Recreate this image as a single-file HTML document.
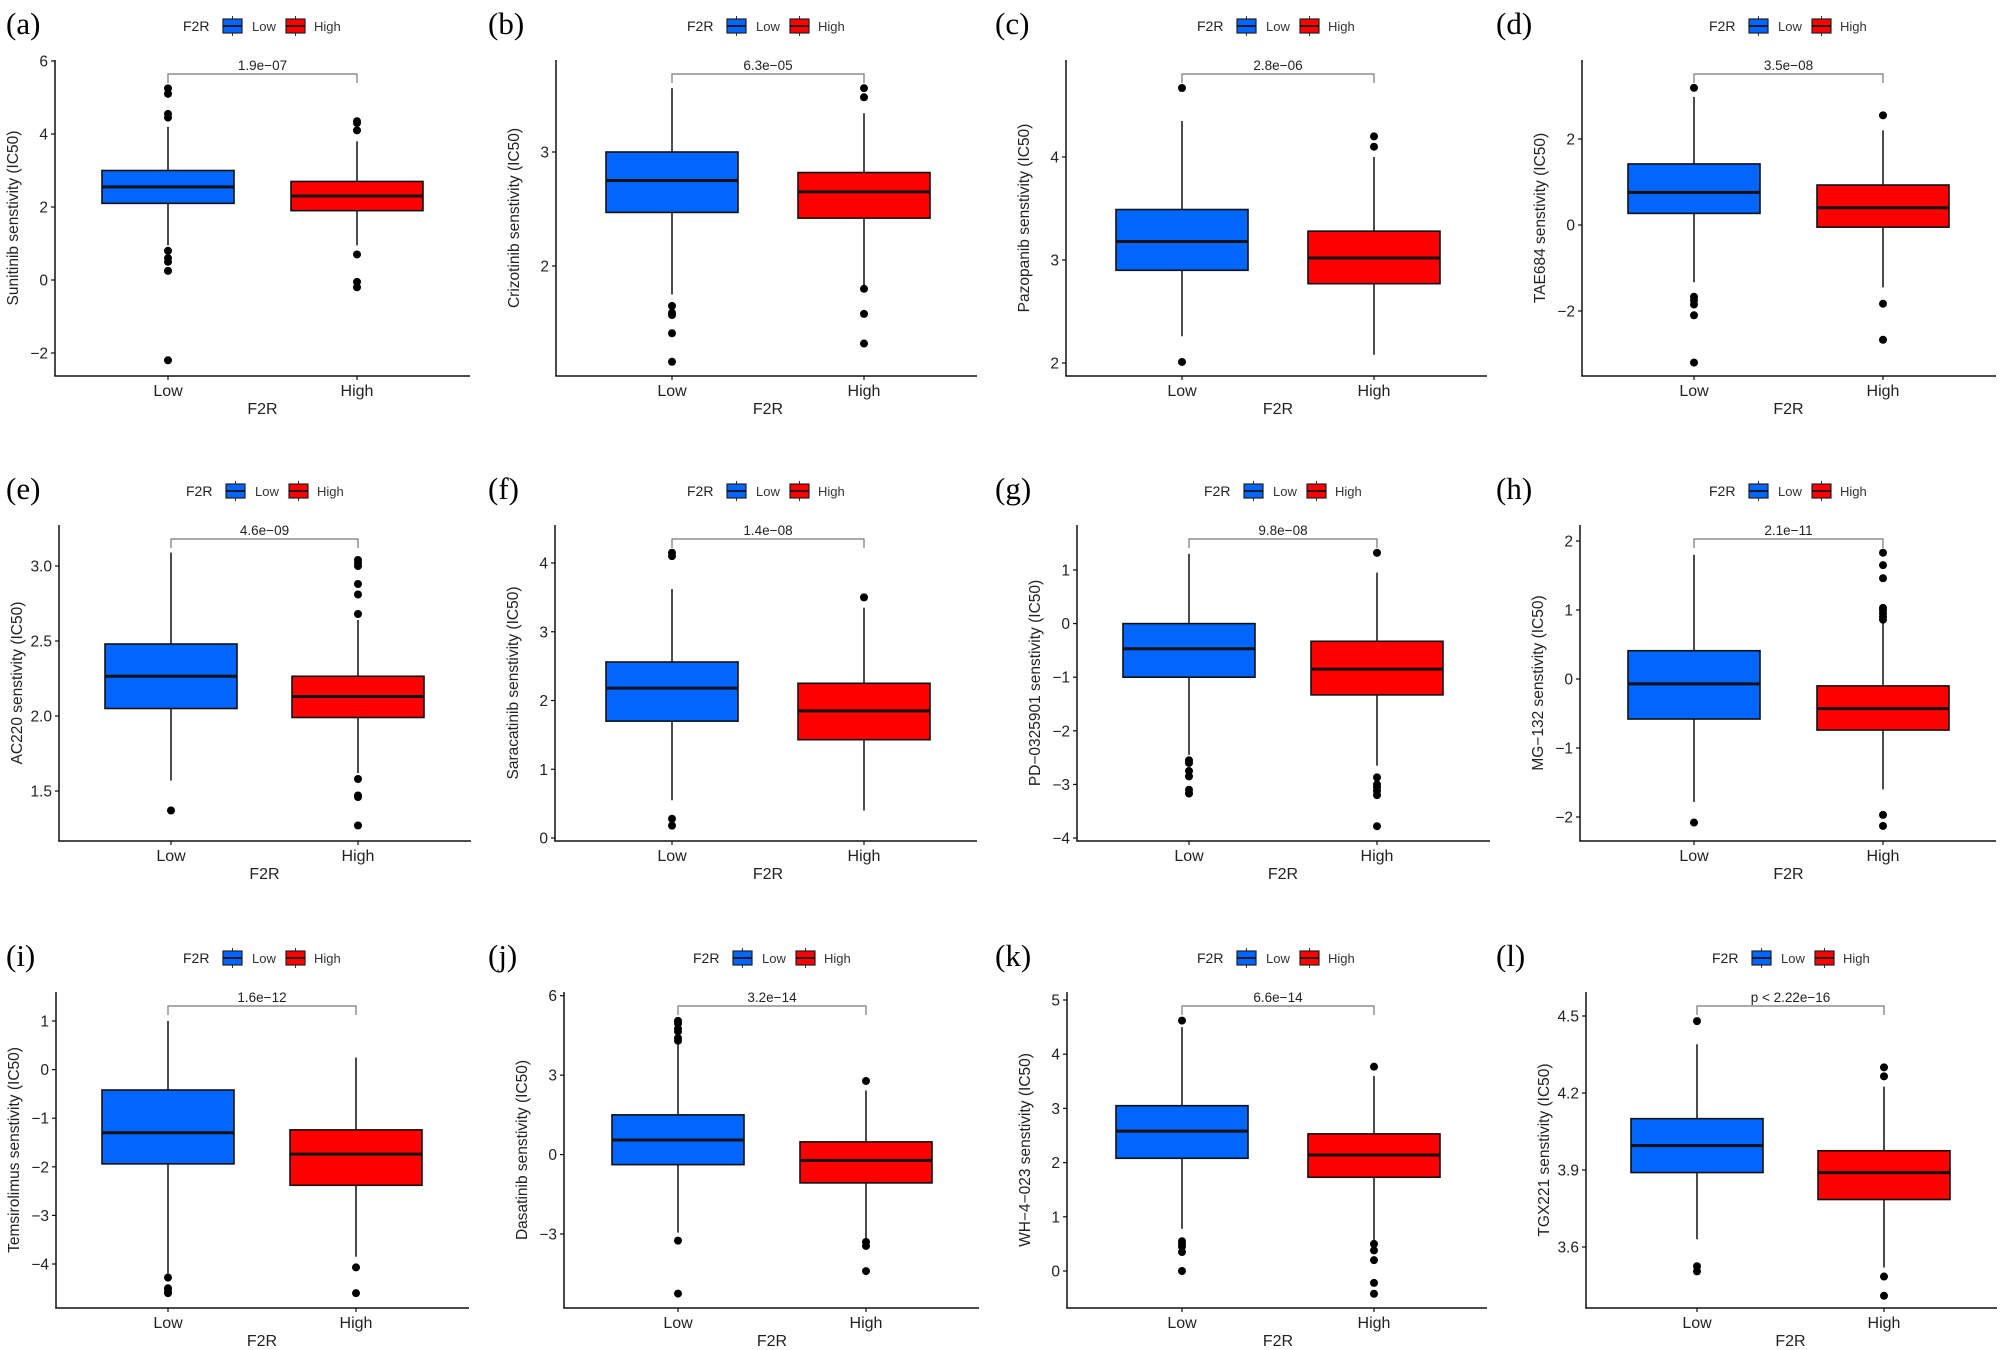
<!DOCTYPE html>
<html><head><meta charset="utf-8">
<style>
html,body{margin:0;padding:0;background:#fff;}
svg{display:block;}
text{font-family:"Liberation Sans",Arial,sans-serif;}
</style></head>
<body>
<svg id="s" xmlns="http://www.w3.org/2000/svg" width="2000" height="1350" viewBox="0 0 2000 1350"></svg>
<script>
var P=[
// row 1
{lab:"(a)",lx:6,row:0,x0:55,lo:168,hi:357,name:"Sunitinib",p:"1.9e-07",t:[[6,61],[-2,353]],ticks:[6,4,2,0,-2],
 L:[4.2,3.0,2.55,2.1,0.95,[5.25,5.1,4.55,4.45,0.8,0.6,0.5,0.25,-2.2]],H:[3.8,2.7,2.3,1.9,0.95,[4.35,4.3,4.1,0.7,-0.05,-0.2]]},
{lab:"(b)",lx:488,row:0,x0:556,lo:672,hi:864,name:"Crizotinib",p:"6.3e-05",t:[[3,152],[2,266]],ticks:[3,2],
 L:[3.56,3.0,2.75,2.47,1.75,[1.65,1.59,1.57,1.41,1.16]],H:[3.34,2.82,2.65,2.42,1.82,[3.56,3.48,1.8,1.58,1.32]]},
{lab:"(c)",lx:995,row:0,x0:1066,lo:1182,hi:1374,name:"Pazopanib",p:"2.8e-06",t:[[4,157],[2,363]],ticks:[4,3,2],
 L:[4.35,3.49,3.18,2.9,2.26,[4.67,2.01]],H:[4.0,3.28,3.02,2.77,2.08,[4.2,4.1]]},
{lab:"(d)",lx:1496,row:0,x0:1582,lo:1694,hi:1883,name:"TAE684",p:"3.5e-08",t:[[2,139],[0,225]],ticks:[2,0,-2],
 L:[2.98,1.42,0.76,0.27,-1.33,[3.19,-1.67,-1.75,-1.85,-2.1,-3.2]],H:[2.2,0.93,0.4,-0.05,-1.45,[2.55,-1.83,-2.67]]},
// row 2
{lab:"(e)",lx:6,row:1,x0:59,lo:171,hi:358,name:"AC220",p:"4.6e-09",t:[[3,566],[1.5,791]],ticks:[3.0,2.5,2.0,1.5],fix:1,
 L:[3.09,2.48,2.265,2.05,1.57,[1.37]],H:[2.64,2.265,2.13,1.99,1.62,[3.04,3.02,3.0,2.88,2.81,2.68,1.58,1.47,1.46,1.27]]},
{lab:"(f)",lx:488,row:1,x0:555,lo:672,hi:864,name:"Saracatinib",p:"1.4e-08",t:[[4,563],[0,838]],ticks:[4,3,2,1,0],
 L:[3.62,2.56,2.18,1.7,0.55,[4.15,4.1,0.28,0.18]],H:[3.35,2.25,1.85,1.43,0.4,[3.5]]},
{lab:"(g)",lx:995,row:1,x0:1077,lo:1189,hi:1377,name:"PD\u22120325901",p:"9.8e-08",t:[[1,570],[-4,838]],ticks:[1,0,-1,-2,-3,-4],
 L:[1.3,0,-0.47,-1.0,-2.45,[-2.55,-2.6,-2.75,-2.85,-3.1,-3.17]],H:[0.95,-0.33,-0.85,-1.33,-2.65,[1.32,-2.87,-3.0,-3.05,-3.12,-3.2,-3.78]]},
{lab:"(h)",lx:1496,row:1,x0:1580,lo:1694,hi:1883,name:"MG\u2212132",p:"2.1e-11",t:[[2,541],[-2,817]],ticks:[2,1,0,-1,-2],
 L:[1.8,0.41,-0.07,-0.58,-1.78,[-2.08]],H:[0.85,-0.1,-0.43,-0.74,-1.6,[1.83,1.65,1.46,1.03,1.0,0.95,0.9,0.86,-1.97,-2.13]]},
// row 3
{lab:"(i)",lx:6,row:2,x0:56,lo:168,hi:356,name:"Temsirolimus",p:"1.6e-12",t:[[1,1021],[-4,1264]],ticks:[1,0,-1,-2,-3,-4],
 L:[1.0,-0.42,-1.3,-1.94,-4.2,[-4.28,-4.5,-4.55,-4.6]],H:[0.25,-1.24,-1.74,-2.38,-3.85,[-4.07,-4.6]]},
{lab:"(j)",lx:488,row:2,x0:564,lo:678,hi:866,name:"Dasatinib",p:"3.2e-14",t:[[6,995.7],[-3,1234]],ticks:[6,3,0,-3],
 L:[4.2,1.5,0.55,-0.38,-2.95,[5.05,4.95,4.75,4.65,4.4,4.3,-3.25,-5.25]],H:[2.42,0.48,-0.22,-1.07,-3.2,[2.78,-3.3,-3.45,-4.4]]},
{lab:"(k)",lx:995,row:2,x0:1067,lo:1182,hi:1374,name:"WH\u22124\u2212023",p:"6.6e-14",t:[[5,1000],[0,1271]],ticks:[5,4,3,2,1,0],
 L:[4.5,3.05,2.58,2.08,0.78,[4.62,0.55,0.5,0.45,0.35,0.0]],H:[3.6,2.53,2.14,1.73,0.55,[3.77,0.5,0.38,0.2,-0.22,-0.42]]},
{lab:"(l)",lx:1496,row:2,x0:1586,lo:1697,hi:1884,name:"TGX221",p:"p < 2.22e\u221216",t:[[4.5,1016],[3.6,1247]],ticks:[4.5,4.2,3.9,3.6],fix:1,
 L:[4.39,4.1,3.995,3.89,3.63,[4.48,3.525,3.505]],H:[4.225,3.975,3.89,3.785,3.52,[4.3,4.265,3.485,3.41]]}
];
var rowOff=[0,465,932];
var BLUE="#0066FF",RED="#FF0000";
var o=[];
function fmt(v,fix){var s=fix?v.toFixed(1):String(v);return s.replace("-","\u2212");}
P.forEach(function(p){
 var off=rowOff[p.row],top=60+off,bot=376+off;
 var a=p.t[0],b=p.t[1],k=(b[1]-a[1])/(b[0]-a[0]);
 function Y(v){return a[1]+(v-a[0])*k;}
 var right=p.hi+113;
 // panel label
 o.push('<text x="'+p.lx+'" y="'+(34+off)+'" font-family="Liberation Serif,serif" style="font-family:\'Liberation Serif\',serif" font-size="31">'+p.lab+'</text>');
 // legend
 var lx=p.lo+15,ly=26+off;
 o.push('<text x="'+lx+'" y="'+(ly+5)+'" font-size="14" fill="#222">F2R</text>');
 [[lx+40,BLUE,"Low",lx+69],[lx+103,RED,"High",lx+131]].forEach(function(g){
  o.push('<line x1="'+(g[0]+9.5)+'" y1="'+(ly-10)+'" x2="'+(g[0]+9.5)+'" y2="'+(ly+10)+'" stroke="#333" stroke-width="1"/>');
  o.push('<rect x="'+g[0]+'" y="'+(ly-7)+'" width="19" height="14" fill="'+g[1]+'" stroke="#222" stroke-width="1.2"/>');
  o.push('<line x1="'+g[0]+'" y1="'+ly+'" x2="'+(g[0]+19)+'" y2="'+ly+'" stroke="#111" stroke-width="1.8"/>');
  o.push('<text x="'+g[3]+'" y="'+(ly+5)+'" font-size="13" fill="#333">'+g[2]+'</text>');
 });
 // axes
 o.push('<line x1="'+p.x0+'" y1="'+top+'" x2="'+p.x0+'" y2="'+bot+'" stroke="#111" stroke-width="1.5"/>');
 o.push('<line x1="'+(p.x0-0.75)+'" y1="'+bot+'" x2="'+right+'" y2="'+bot+'" stroke="#111" stroke-width="1.5"/>');
 p.ticks.forEach(function(t){var y=Y(t);
  o.push('<line x1="'+(p.x0-4)+'" y1="'+y+'" x2="'+p.x0+'" y2="'+y+'" stroke="#111" stroke-width="1.2"/>');
  o.push('<text x="'+(p.x0-7)+'" y="'+(y+5.5)+'" font-size="15.5" text-anchor="end" fill="#222">'+fmt(t,p.fix)+'</text>');
 });
 [p.lo,p.hi].forEach(function(x,i){
  o.push('<line x1="'+x+'" y1="'+bot+'" x2="'+x+'" y2="'+(bot+4)+'" stroke="#111" stroke-width="1.2"/>');
  o.push('<text x="'+x+'" y="'+(bot+20)+'" font-size="16" text-anchor="middle" fill="#222">'+(i?"High":"Low")+'</text>');
 });
 o.push('<text x="'+((p.lo+p.hi)/2)+'" y="'+(bot+38)+'" font-size="16" text-anchor="middle" fill="#222">F2R</text>');
 var yt=(top+bot)/2, tx=p.x0-37;
 o.push('<text transform="translate('+tx+','+yt+') rotate(-90)" x="0" y="0" font-size="15.5" text-anchor="middle" fill="#222">'+p.name+' senstivity (IC50)</text>');
 // boxes
 [[p.lo,p.L,BLUE],[p.hi,p.H,RED]].forEach(function(g){
  var x=g[0],d=g[1];
  o.push('<line x1="'+x+'" y1="'+Y(d[0])+'" x2="'+x+'" y2="'+Y(d[4])+'" stroke="#111" stroke-width="1.5"/>');
  o.push('<rect x="'+(x-66)+'" y="'+Y(d[1])+'" width="132" height="'+(Y(d[3])-Y(d[1]))+'" fill="'+g[2]+'" stroke="#111" stroke-width="1.6"/>');
  o.push('<line x1="'+(x-66)+'" y1="'+Y(d[2])+'" x2="'+(x+66)+'" y2="'+Y(d[2])+'" stroke="#111" stroke-width="3"/>');
  d[5].forEach(function(v){o.push('<circle cx="'+x+'" cy="'+Y(v)+'" r="4" fill="#000"/>');});
 });
 // bracket
 var by=top+14;
 o.push('<path d="M'+p.lo+' '+(by+9)+' V'+by+' H'+p.hi+' V'+(by+9)+'" fill="none" stroke="#777" stroke-width="1.2"/>');
 o.push('<text x="'+((p.lo+p.hi)/2)+'" y="'+(by-4)+'" font-size="13.5" text-anchor="middle" fill="#222">'+p.p.replace("e-","e\u2212")+'</text>');
});
document.getElementById("s").innerHTML=o.join("");
</script>
</body></html>
